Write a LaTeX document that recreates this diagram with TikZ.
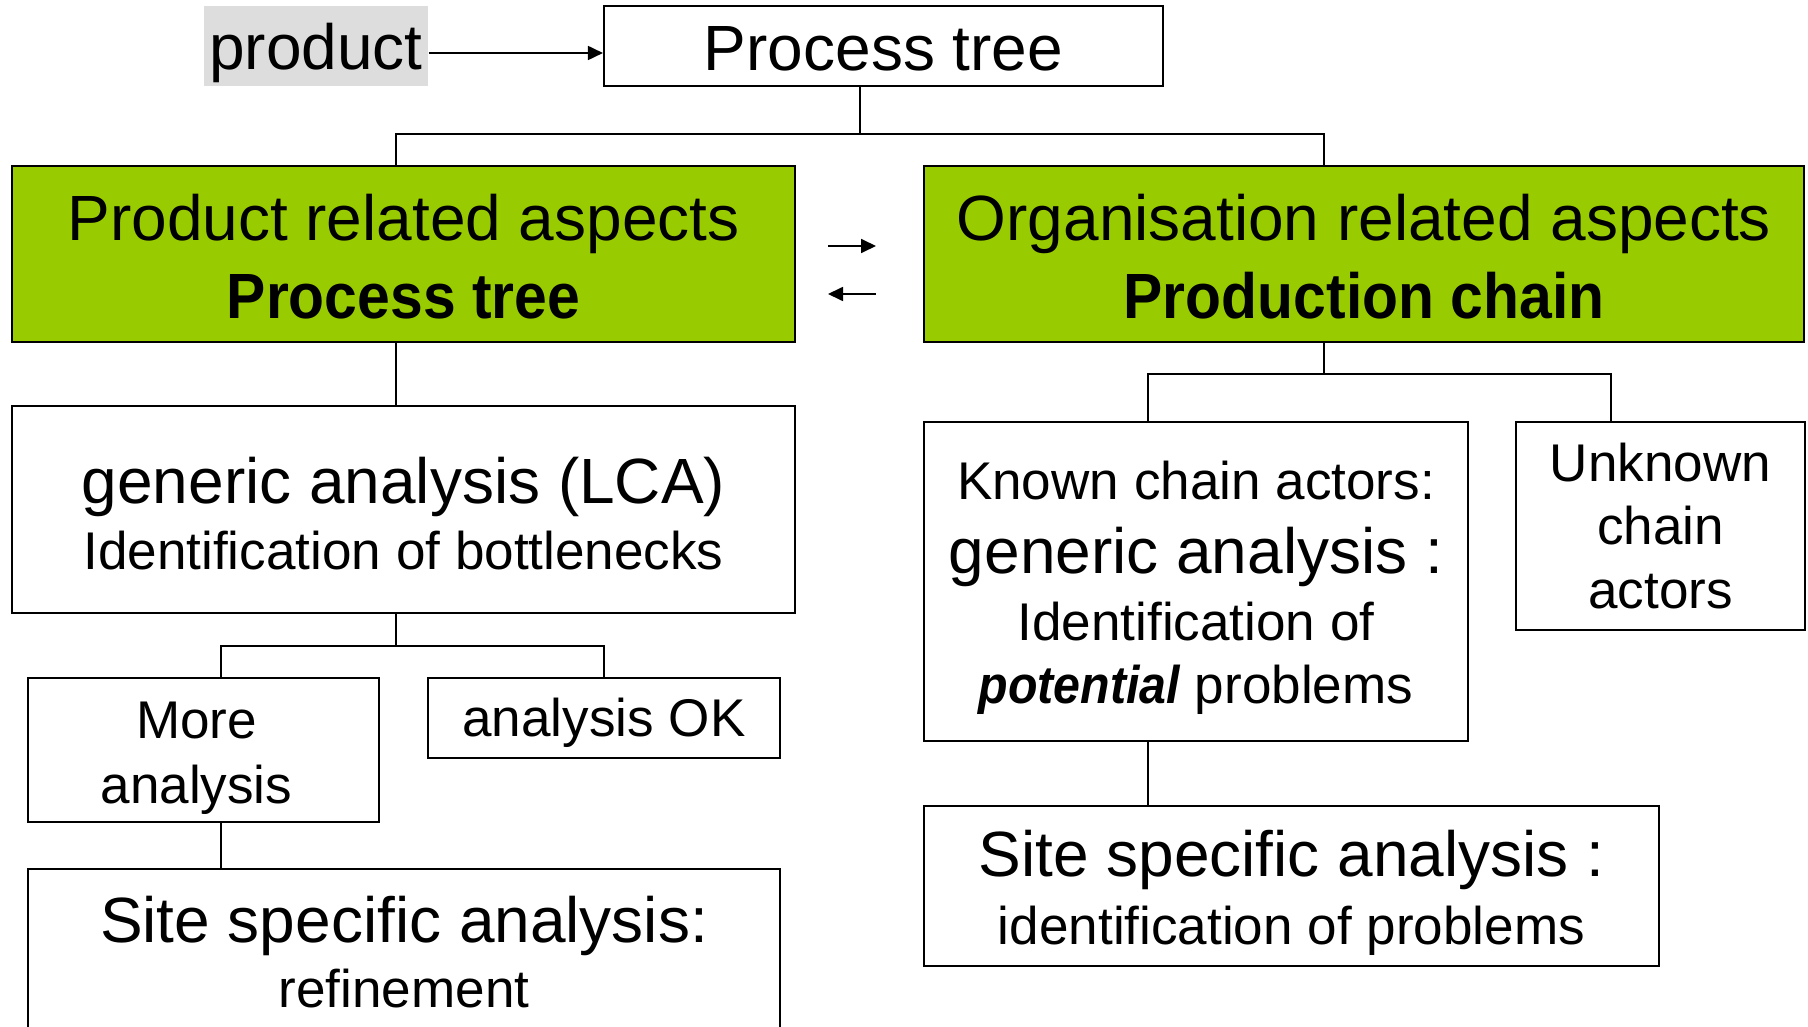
\documentclass[tikz,border=0pt]{standalone}
\usepackage{fontspec}
\setmainfont{Liberation Sans}
\usepackage{graphicx}
\usetikzlibrary{arrows.meta}
\definecolor{aspectgreen}{RGB}{153,204,0}
\definecolor{taggray}{RGB}{221,221,221}
\tikzstyle{graph}=[x=0.1mm, y=-0.1mm]
\tikzstyle{box}=[draw, line width=0.6pt, inner sep=0pt, align=center]
\tikzstyle{greenbox}=[box, fill=aspectgreen]
\tikzstyle{tagbox}=[inner sep=0pt, fill=taggray]
\tikzstyle{link}=[line width=0.5pt]
\tikzstyle{swap}=[line width=0.5pt, -{Triangle[length=1.5mm, width=1.4mm]}]
\newcommand{\sza}{\fontsize{18.2pt}{22pt}\selectfont}
\newcommand{\szb}{\fontsize{15.1pt}{18pt}\selectfont}
\newcommand{\nbf}[1]{\scalebox{0.92}[1]{\bfseries #1}}
% taller first line pushes the text block down a little
\newcommand{\sink}[1]{\rule{0pt}{\dimexpr0.73em+#1\relax}}

\begin{document}
\begin{tikzpicture}[graph]
	\useasboundingbox (0,0) rectangle (1808,1027);
	\draw (316,46) node[tagbox, minimum width=22.4mm, minimum height=8mm] (tag) {\sza\sink{4pt}product};
	\draw (883.5,46) node[box, minimum width=55.9mm, minimum height=8mm] (tree) {\sza\sink{1pt}Process tree};
	%
	\draw (403.5,254) node[greenbox, minimum width=78.3mm, minimum height=17.6mm, font=\fontsize{18.2pt}{22.2pt}\selectfont] (prod) {\sza\sink{1.3pt}Product related aspects\\\sza\nbf{Process tree}};
	\draw (1364,254) node[greenbox, minimum width=88mm, minimum height=17.6mm, font=\fontsize{18.2pt}{22.2pt}\selectfont] (org) {\sza\sink{1.3pt}Organisation related aspects\\\sza\nbf{Production chain}};
	%
	\draw (403.5,509.5) node[box, minimum width=78.3mm, minimum height=20.7mm, font=\fontsize{18.2pt}{18.8pt}\selectfont] (gen) {\sza\sink{2pt}generic analysis (LCA)\\\szb Identification of bottlenecks};
	\draw (203.5,750) node[box, minimum width=35.1mm, minimum height=14.4mm, font=\fontsize{15.1pt}{18.4pt}\selectfont] (more) {\szb\sink{4.2pt}More\kern4pt\\\szb analysis\kern4pt};
	\draw (604,718) node[box, minimum width=35.2mm, minimum height=8mm] (ok) {\szb\sink{2.6pt}analysis OK};
	\draw (404,952) node[box, minimum width=75.2mm, minimum height=16.6mm, font=\fontsize{18.2pt}{18.5pt}\selectfont] (site1) {\sza Site specific analysis:\\\szb refinement};
	%
	\draw (1196,581.5) node[box, minimum width=54.4mm, minimum height=31.9mm, font=\fontsize{15.1pt}{17.9pt}\selectfont] (known) {\szb\sink{3.6pt}Known chain actors:\\[3.1pt]\sza generic analysis :\\[1.2pt]\szb Identification of\\\szb{\scalebox{0.91}[1]{\bfseries\itshape potential}} problems};
	\draw (1660.5,526) node[box, minimum width=28.9mm, minimum height=20.8mm, font=\fontsize{15.1pt}{18.2pt}\selectfont] (unk) {\szb Unknown\\\szb chain\\\szb actors};
	\draw (1291.5,886) node[box, minimum width=73.5mm, minimum height=16mm, font=\fontsize{18.2pt}{19.4pt}\selectfont] (site2) {\sza\sink{3.6pt}Site specific analysis :\\\szb identification of problems};
	%
	\coordinate (busT) at (860,134);
	\coordinate (busL) at (396,134);
	\coordinate (busR) at (1324,134);
	\coordinate (fork1) at (396,646);
	\coordinate (forkA) at (221,646);
	\coordinate (forkB) at (604,646);
	\coordinate (fork2) at (1324,374);
	\coordinate (forkC) at (1148,374);
	\coordinate (forkD) at (1611,374);
	\coordinate (swapA) at (828,246);
	\coordinate (swapB) at (876,246);
	\coordinate (swapC) at (876,294);
	\coordinate (swapD) at (828,294);
	%
	\draw[swap] ([yshift=-0.7mm]tag.east) -- ([yshift=-0.7mm]tree.west);
	\draw[link] (tree.south -| busT) -- (busT);
	\draw[link] (prod.north -| busL) -- (busL) -- (busR) -- (org.north -| busR);
	\draw[swap] (swapA) -- (swapB);
	\draw[swap] (swapC) -- (swapD);
	%
	\draw[link] (prod.south -| busL) -- (gen.north -| busL);
	\draw[link] (gen.south -| fork1) -- (fork1);
	\draw[link] (more.north -| forkA) -- (forkA) -- (forkB) -- (ok.north -| forkB);
	\draw[link] (more.south -| forkA) -- (site1.north -| forkA);
	%
	\draw[link] (org.south -| fork2) -- (fork2);
	\draw[link] (known.north -| forkC) -- (forkC) -- (forkD) -- (unk.north -| forkD);
	\draw[link] (known.south -| forkC) -- (site2.north -| forkC);
\end{tikzpicture}
\end{document}
